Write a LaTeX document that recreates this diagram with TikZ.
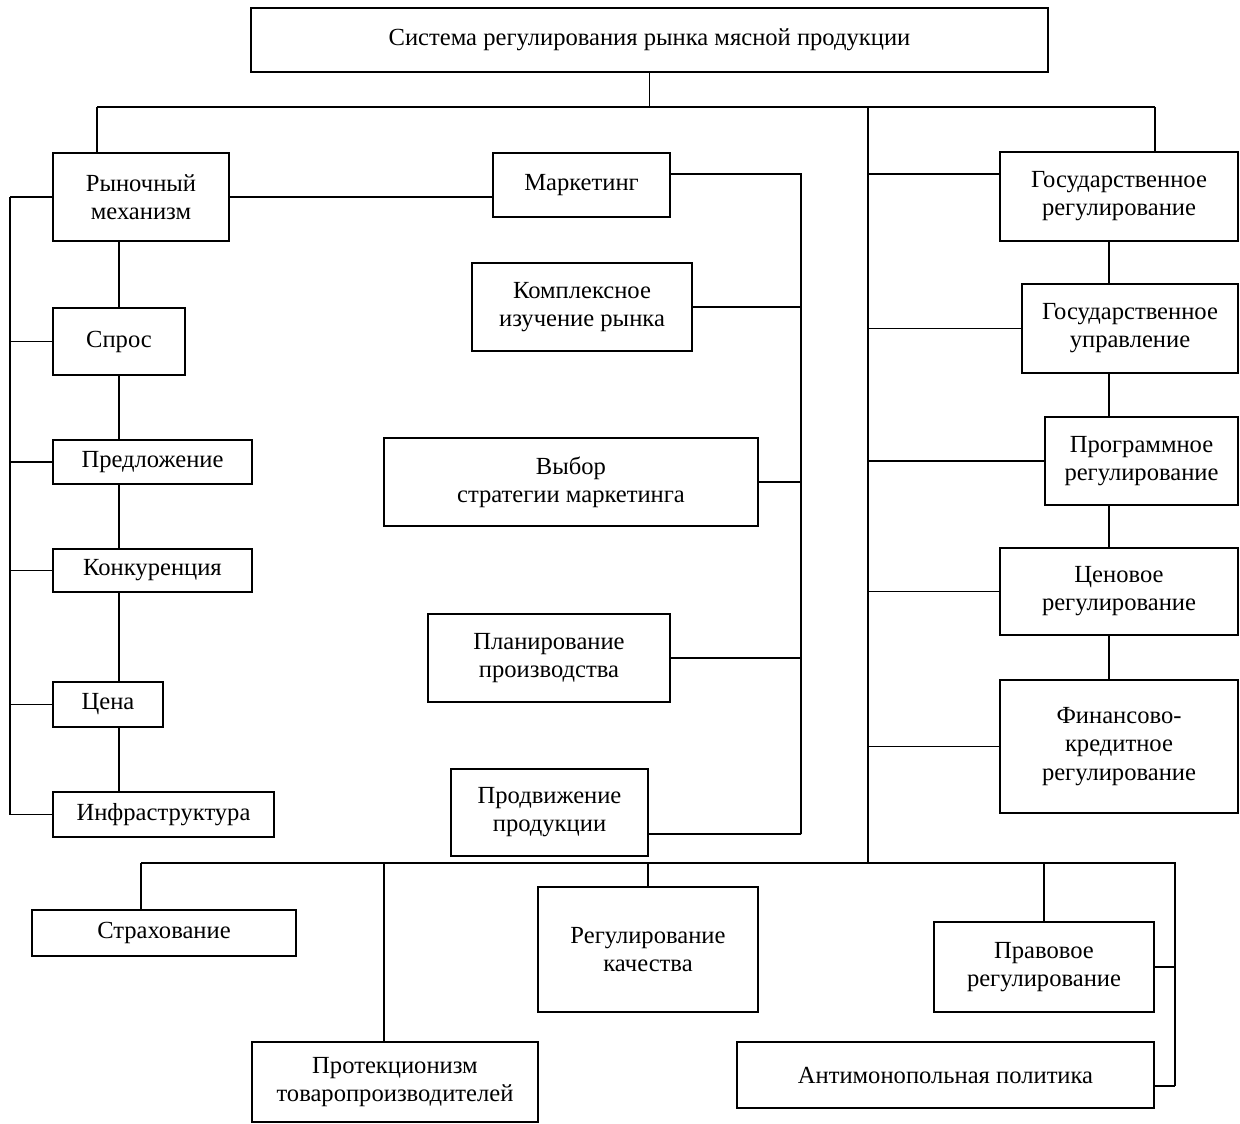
\documentclass[tikz,border=0pt]{standalone}
\usepackage{fontspec}
\setmainfont{Liberation Serif}
\usepackage{tikz}

\begin{document}
\begin{tikzpicture}[x=0.02cm, y=-0.02cm, line width=1pt,
  box/.style={draw, align=center, inner sep=0pt, font=\fontsize{14}{16}\selectfont}]
\useasboundingbox (0,0) rectangle (1240,1124);

\node[box, minimum width=15.94cm, minimum height=1.28cm] (top) at (649.5,40) {Система регулирования рынка мясной продукции};

\node[box, minimum width=3.52cm, minimum height=1.76cm] (rm) at (141,197) {Рыночный\\механизм};
\node[box, minimum width=2.64cm, minimum height=1.34cm] (spros) at (119,341.5) {Спрос};
\node[box, minimum width=3.98cm, minimum height=0.88cm] (pred) at (152.5,462) {Предложение};
\node[box, minimum width=3.98cm, minimum height=0.86cm] (konk) at (152.5,570.5) {Конкуренция};
\node[box, minimum width=2.2cm, minimum height=0.9cm] (cena) at (108,704.5) {Цена};
\node[box, minimum width=4.42cm, minimum height=0.9cm] (infra) at (163.5,814.5) {Инфраструктура};

\node[box, minimum width=3.54cm, minimum height=1.28cm] (mark) at (581.5,185) {Маркетинг};
\node[box, minimum width=4.4cm, minimum height=1.76cm] (kompl) at (582,307) {Комплексное\\изучение рынка};
\node[box, minimum width=7.48cm, minimum height=1.76cm] (vybor) at (571,482) {Выбор\\стратегии маркетинга};
\node[box, minimum width=4.84cm, minimum height=1.76cm] (plan) at (549,658) {Планирование\\производства};
\node[box, minimum width=3.94cm, minimum height=1.74cm] (prod) at (549.5,812.5) {Продвижение\\продукции};

\node[box, minimum width=4.76cm, minimum height=1.78cm] (gosreg) at (1119,196.5) {Государственное\\регулирование};
\node[box, minimum width=4.32cm, minimum height=1.78cm] (gosupr) at (1130,328.5) {Государственное\\управление};
\node[box, minimum width=3.86cm, minimum height=1.76cm] (progr) at (1141.5,461) {Программное\\регулирование};
\node[box, minimum width=4.76cm, minimum height=1.74cm] (cenreg) at (1119,591.5) {Ценовое\\регулирование};
\node[box, minimum width=4.76cm, minimum height=2.66cm] (fin) at (1119,746.5) {Финансово-\\кредитное\\регулирование};

\node[box, minimum width=5.28cm, minimum height=0.92cm] (strah) at (164,933) {Страхование};
\node[box, minimum width=5.72cm, minimum height=1.6cm] (prot) at (395,1082) {Протекционизм\\товаропроизводителей};
\node[box, minimum width=4.4cm, minimum height=2.5cm] (kach) at (648,949.5) {Регулирование\\качества};
\node[box, minimum width=4.4cm, minimum height=1.8cm] (prav) at (1044,967) {Правовое\\регулирование};
\node[box, minimum width=8.34cm, minimum height=1.32cm] (anti) at (945.5,1075) {Антимонопольная политика};

% top bus
\coordinate (tbL) at (97,107);
\coordinate (tbR) at (1155,107);
\coordinate (gbT) at (868,107);
\coordinate (gbB) at (868,863);
\draw (top.south) |- (tbL);
\draw (top.south) |- (tbR);
\draw (tbL) -- (tbL |- rm.north);
\draw (tbR) -- (tbR |- gosreg.north);
\draw (gbT) -- (gbB);

% market mechanism
\coordinate (lb) at (10,197);
\draw (lb) -- (lb |- infra.west);
\foreach \n in {rm, spros, pred, konk, cena, infra}
  \draw (\n.west) -- (\n.west -| lb);
\draw (rm.south -| spros) -- (spros.north);
\foreach \a/\b in {spros/pred, pred/konk, konk/cena, cena/infra}
  \draw (\a.south -| spros) -- (\b.north -| spros);
\draw (rm.east) -- (rm.east -| mark.west);

% marketing
\coordinate (mb) at (801,174);
\draw ([yshift=0.22cm]mark.east) -- (mb) -- (mb |- 0,834);
\draw (kompl.east) -- (kompl.east -| mb);
\draw (vybor.east) -- (vybor.east -| mb);
\draw (plan.east) -- (plan.east -| mb);
\draw ([yshift=-0.43cm]prod.east) -- ([yshift=-0.43cm]prod.east -| mb);

% state regulation
\draw ([yshift=0.45cm]gosreg.west) -- ([yshift=0.45cm]gosreg.west -| gbT);
\foreach \n in {gosupr, progr, cenreg, fin}
  \draw (\n.west) -- (\n.west -| gbT);
\foreach \a/\b in {gosreg/gosupr, gosupr/progr, progr/cenreg, cenreg/fin}
  \draw (1109,0 |- \a.south) -- (1109,0 |- \b.north);

% bottom bus
\coordinate (bbL) at (141,863);
\coordinate (bbR) at (1175,863);
\draw (bbL) -- (bbR) -- (bbR |- 0,1086);
\draw (bbL) -- (bbL |- strah.north);
\draw (384,863) -- (prot.north -| 384,0);
\draw (bbL -| kach) -- (kach.north);
\draw (bbL -| prav) -- (prav.north);
\draw (prav.east) -- (prav.east -| bbR);
\draw ([yshift=-0.22cm]anti.east) -- ([yshift=-0.22cm]anti.east -| bbR);
\end{tikzpicture}
\end{document}
